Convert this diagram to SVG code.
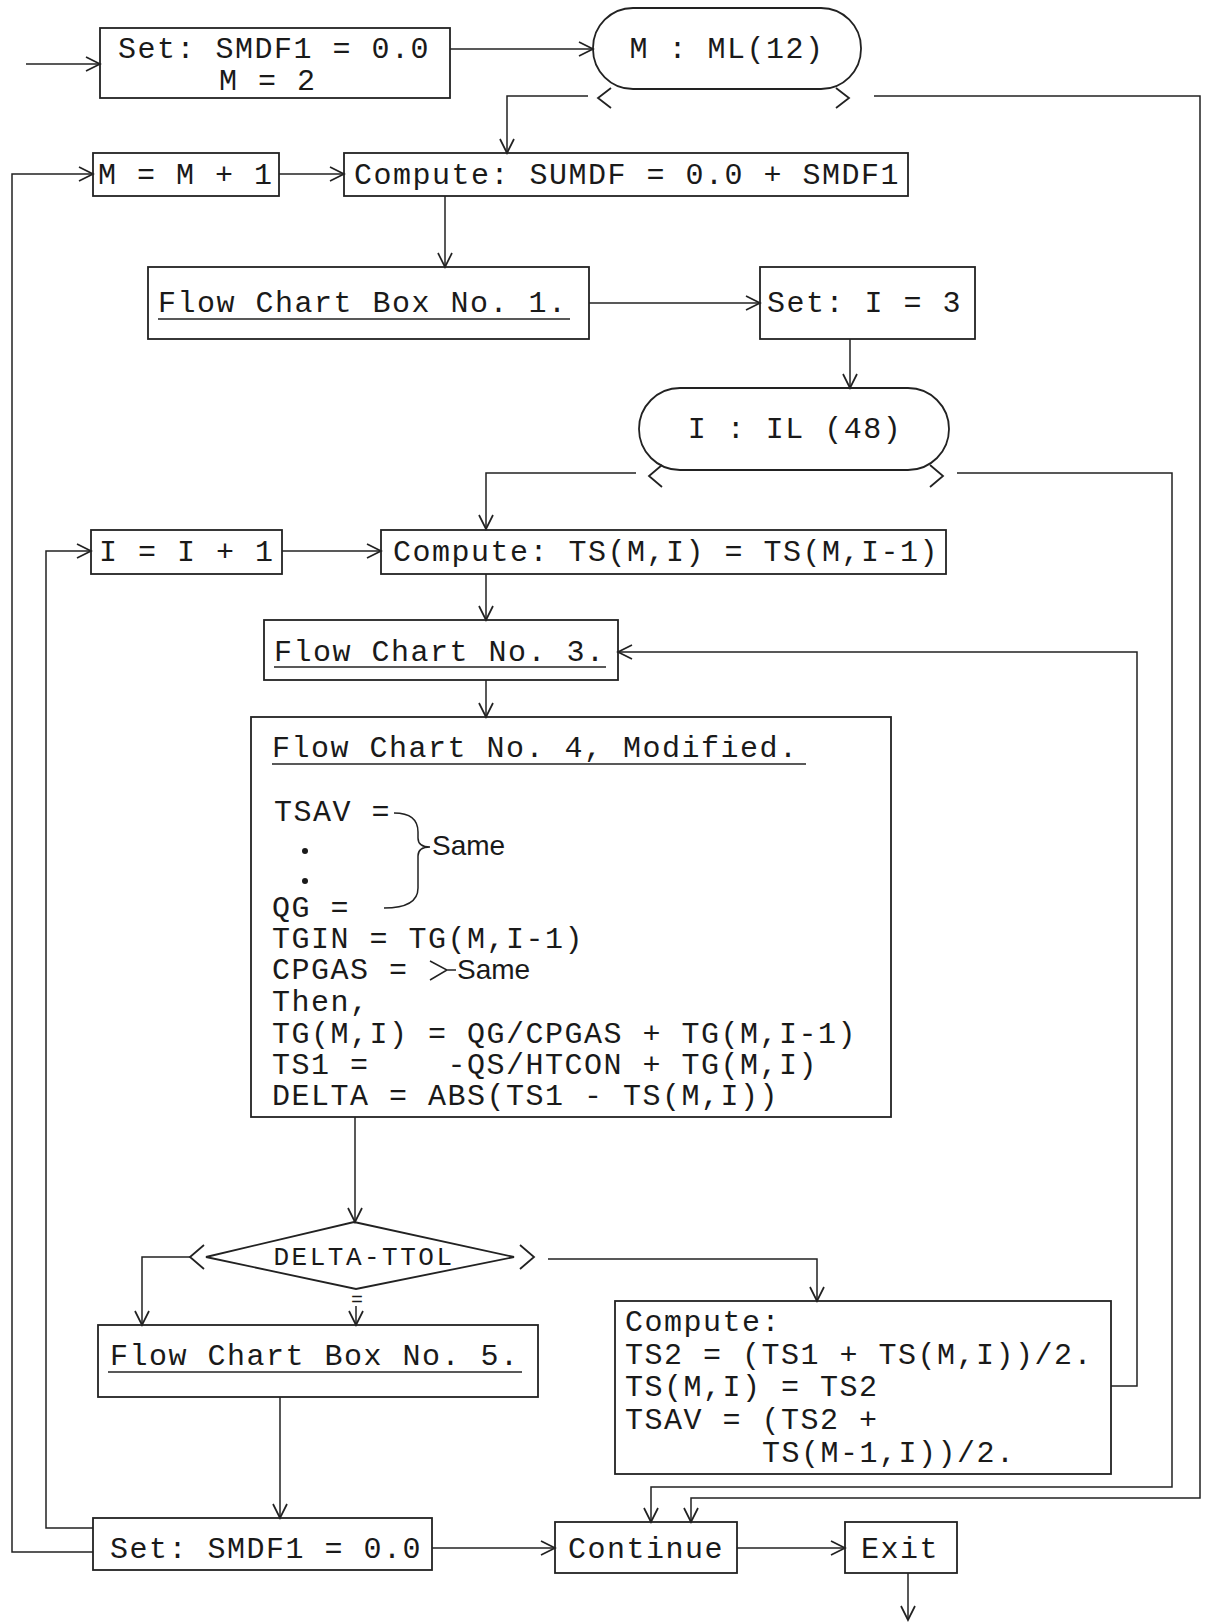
<svg xmlns="http://www.w3.org/2000/svg" width="1208" height="1622" viewBox="0 0 1208 1622" xml:space="preserve">
<style>
.box{fill:none;stroke:#222;stroke-width:1.8}
.t{font-family:"Liberation Mono","Courier New",monospace;font-size:30px;letter-spacing:1.5px;fill:#1a1a1a;white-space:pre}
.s{font-family:"Liberation Sans",Arial,sans-serif;font-size:28px;fill:#1a1a1a}
.c{fill:none;stroke:#222;stroke-width:1.5}
.ch{fill:none;stroke:#222;stroke-width:1.8;stroke-linejoin:miter}
.u{stroke:#222;stroke-width:1.5}
</style>
<defs>
<marker id="ah" markerUnits="userSpaceOnUse" markerWidth="18" markerHeight="16" refX="15" refY="8" orient="auto">
<path d="M1,1 L15,8 L1,15" fill="none" stroke="#222" stroke-width="1.7"/>
</marker>
</defs>
<rect width="1208" height="1622" fill="#fff"/>

<g id="connectors">
<path class="c" d="M26,64 L100,64" marker-end="url(#ah)"/>
<path class="c" d="M450,49 L593,49" marker-end="url(#ah)"/>
<path class="c" d="M588,96 L507,96 L507,153" marker-end="url(#ah)"/>
<path class="c" d="M874,96 L1200,96 L1200,1498 L691,1498 L691,1522" marker-end="url(#ah)"/>
<path class="c" d="M93,1552 L12,1552 L12,174 L93,174" marker-end="url(#ah)"/>
<path class="c" d="M279,174 L344,174" marker-end="url(#ah)"/>
<path class="c" d="M445,196 L445,267" marker-end="url(#ah)"/>
<path class="c" d="M589,303 L760,303" marker-end="url(#ah)"/>
<path class="c" d="M850,339 L850,388" marker-end="url(#ah)"/>
<path class="c" d="M636,473 L486,473 L486,529" marker-end="url(#ah)"/>
<path class="c" d="M957,473 L1172,473 L1172,1487 L651,1487 L651,1522" marker-end="url(#ah)"/>
<path class="c" d="M93,1528 L46,1528 L46,551 L91,551" marker-end="url(#ah)"/>
<path class="c" d="M282,551 L381,551" marker-end="url(#ah)"/>
<path class="c" d="M486,574 L486,620" marker-end="url(#ah)"/>
<path class="c" d="M1111,1386 L1137,1386 L1137,652 L618,652" marker-end="url(#ah)"/>
<path class="c" d="M486,680 L486,717" marker-end="url(#ah)"/>
<path class="c" d="M355,1117 L355,1222" marker-end="url(#ah)"/>
<path class="c" d="M190,1257 L142,1257 L142,1325" marker-end="url(#ah)"/>
<path class="c" d="M548,1259 L817,1259 L817,1301" marker-end="url(#ah)"/>
<path class="c" d="M356,1306 L356,1325" marker-end="url(#ah)"/>
<path class="c" d="M280,1397 L280,1518" marker-end="url(#ah)"/>
<path class="c" d="M432,1548 L555,1548" marker-end="url(#ah)"/>
<path class="c" d="M737,1548 L845,1548" marker-end="url(#ah)"/>
<path class="c" d="M908,1573 L908,1620" marker-end="url(#ah)"/>
</g>

<g id="set-start">
<rect class="box" x="100" y="28" width="350" height="70"/>
<text class="t" x="118" y="58">Set: SMDF1 = 0.0</text>
<text class="t" x="219" y="90">M = 2</text>
</g>

<g id="loop-m">
<rect class="box" x="593" y="8" width="268" height="81" rx="40" ry="40"/>
<text class="t" x="727" y="58" text-anchor="middle">M : ML(12)</text>
<path class="ch" d="M611,88 L598,98 L611,108"/>
<path class="ch" d="M836,88 L849,98 L836,108"/>
</g>

<g id="m-inc">
<rect class="box" x="93" y="153" width="186" height="43"/>
<text class="t" x="98" y="184">M = M + 1</text>
</g>

<g id="compute-sumdf">
<rect class="box" x="344" y="153" width="564" height="43"/>
<text class="t" x="354" y="184">Compute: SUMDF = 0.0 + SMDF1</text>
</g>

<g id="fcb1">
<rect class="box" x="148" y="267" width="441" height="72"/>
<text class="t" x="158" y="312">Flow Chart Box No. 1.</text>
<line class="u" x1="158" y1="319" x2="570" y2="319"/>
</g>

<g id="set-i">
<rect class="box" x="760" y="267" width="215" height="72"/>
<text class="t" x="767" y="312">Set: I = 3</text>
</g>

<g id="loop-i">
<rect class="box" x="639" y="388" width="310" height="82" rx="41" ry="41"/>
<text class="t" x="795" y="438" text-anchor="middle">I : IL (48)</text>
<path class="ch" d="M662,465 L649,476 L662,487"/>
<path class="ch" d="M930,465 L943,476 L930,487"/>
</g>

<g id="i-inc">
<rect class="box" x="91" y="530" width="191" height="44"/>
<text class="t" x="99" y="561">I = I + 1</text>
</g>

<g id="compute-ts">
<rect class="box" x="381" y="530" width="565" height="44"/>
<text class="t" x="393" y="561">Compute: TS(M,I) = TS(M,I-1)</text>
</g>

<g id="fc3">
<rect class="box" x="264" y="620" width="354" height="60"/>
<text class="t" x="274" y="661">Flow Chart No. 3.</text>
<line class="u" x1="274" y1="667" x2="606" y2="667"/>
</g>

<g id="fc4">
<rect class="box" x="251" y="717" width="640" height="400"/>
<text class="t" x="272" y="757">Flow Chart No. 4, Modified.</text>
<line class="u" x1="272" y1="764" x2="806" y2="764"/>
<text class="t" x="274" y="821">TSAV =</text>
<circle cx="305" cy="851" r="3" fill="#1a1a1a"/>
<circle cx="305" cy="881" r="3" fill="#1a1a1a"/>
<path class="c" d="M394,813 Q418,813 418,832 L418,838 Q418,847 430,847 Q418,847 418,856 L418,888 Q418,908 384,908"/>
<text class="s" x="432" y="855">Same</text>
<text class="t" x="272" y="917">QG =</text>
<text class="t" x="272" y="948">TGIN = TG(M,I-1)</text>
<text class="t" x="272" y="979">CPGAS =</text>
<path class="c" d="M430,961 L447,970 L430,980 M447,970 L456,970"/>
<text class="s" x="457" y="979">Same</text>
<text class="t" x="272" y="1011">Then,</text>
<text class="t" x="272" y="1043">TG(M,I) = QG/CPGAS + TG(M,I-1)</text>
<text class="t" x="272" y="1074">TS1 =    -QS/HTCON + TG(M,I)</text>
<text class="t" x="272" y="1105">DELTA = ABS(TS1 - TS(M,I))</text>
</g>

<g id="decision">
<path class="box" d="M354,1222 L514,1257 L356,1289 L206,1257 Z"/>
<text class="t" x="364" y="1265" text-anchor="middle" style="font-size:26px;letter-spacing:2.5px">DELTA-TTOL</text>
<path class="ch" d="M204,1245 L190,1257 L204,1269"/>
<path class="ch" d="M520,1245 L534,1257 L520,1269"/>
<text class="t" x="357" y="1306" text-anchor="middle" style="font-size:20px;letter-spacing:0">=</text>
</g>

<g id="fcb5">
<rect class="box" x="98" y="1325" width="440" height="72"/>
<text class="t" x="110" y="1365">Flow Chart Box No. 5.</text>
<line class="u" x1="108" y1="1372" x2="522" y2="1372"/>
</g>

<g id="compute-ts2">
<rect class="box" x="615" y="1301" width="496" height="173"/>
<text class="t" x="625" y="1331">Compute:</text>
<text class="t" x="625" y="1364">TS2 = (TS1 + TS(M,I))/2.</text>
<text class="t" x="625" y="1396">TS(M,I) = TS2</text>
<text class="t" x="625" y="1429">TSAV = (TS2 +</text>
<text class="t" x="762" y="1462">TS(M-1,I))/2.</text>
</g>

<g id="set-end">
<rect class="box" x="93" y="1518" width="339" height="52"/>
<text class="t" x="110" y="1558">Set: SMDF1 = 0.0</text>
</g>

<g id="continue">
<rect class="box" x="555" y="1522" width="182" height="51"/>
<text class="t" x="646" y="1558" text-anchor="middle">Continue</text>
</g>

<g id="exit">
<rect class="box" x="845" y="1522" width="112" height="51"/>
<text class="t" x="900" y="1558" text-anchor="middle">Exit</text>
</g>
</svg>
